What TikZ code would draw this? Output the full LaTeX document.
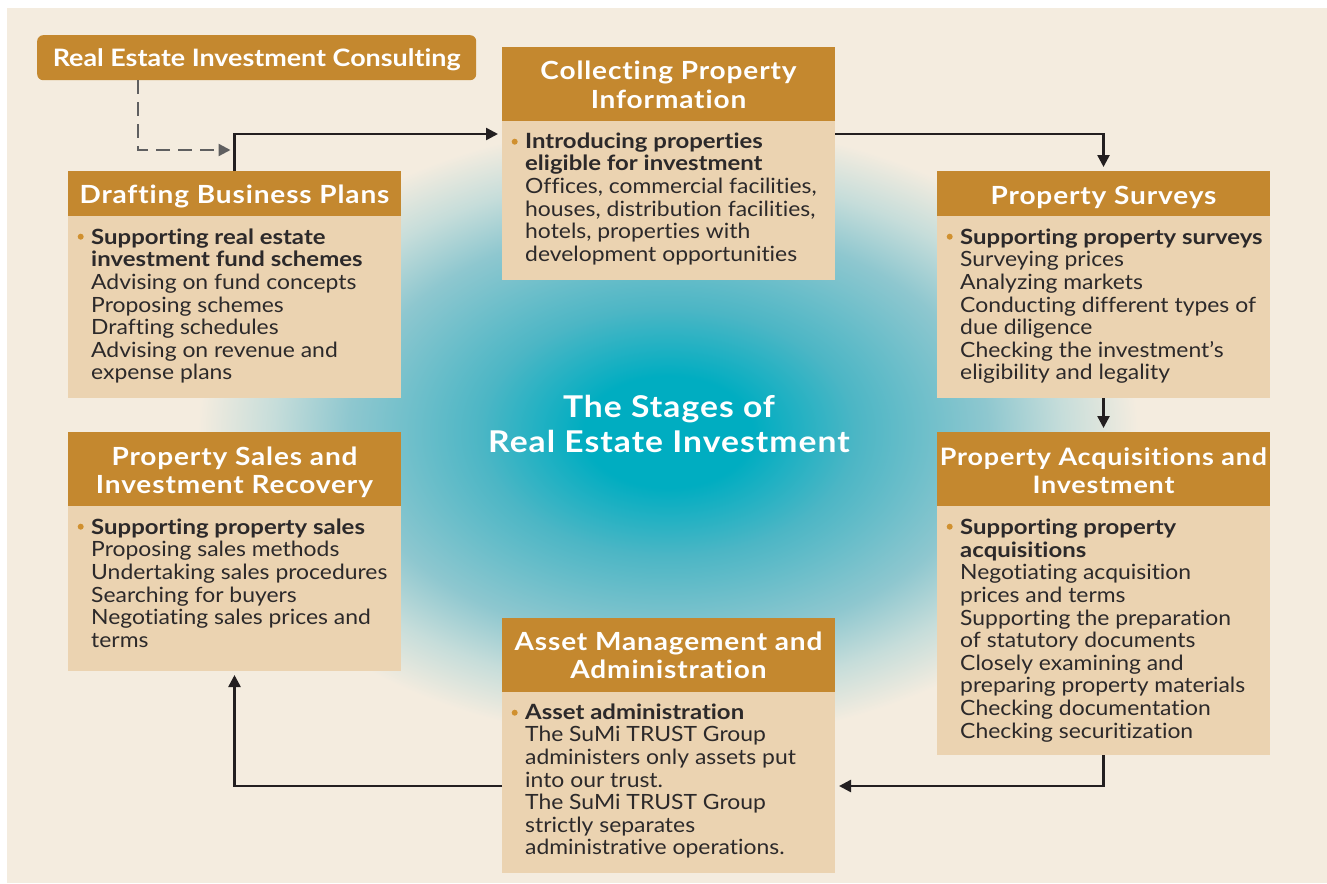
\documentclass[tikz,border=0pt]{standalone}
\usepackage{fontspec}
\setmainfont{Lato}[Ligatures=NoCommon]
\newfontfamily\bodyF{Lato}[FakeStretch=1.09, Ligatures=NoCommon]
\newfontfamily\boldF{Lato}[FakeStretch=1.14, Ligatures=NoCommon]
\newfontfamily\headF{Lato}[FakeStretch=1.12, LetterSpace=3.5, Ligatures=NoCommon]
\newfontfamily\consF{Lato}[FakeStretch=1.12, Ligatures=NoCommon]
\usetikzlibrary{arrows.meta,calc}
\definecolor{cream}{HTML}{F4ECDF}
\definecolor{hdrc}{HTML}{C4882F}
\definecolor{bodyc}{HTML}{EBD3B1}
\definecolor{textc}{HTML}{2C292A}
\definecolor{linec}{HTML}{231F20}
\definecolor{dashc}{HTML}{5F5F60}
\definecolor{bulletc}{HTML}{D0902F}
\definecolor{glowA}{HTML}{00ADC1}
\definecolor{glowB}{HTML}{4CB6C5}
\definecolor{glowC}{HTML}{8EC7CF}
\definecolor{glowD}{HTML}{C6DDDA}
\pgfdeclareradialshading{glow}{\pgfpoint{0bp}{0bp}}{color(0bp)=(glowA); color(4.5bp)=(glowA); color(10bp)=(glowB); color(17bp)=(glowC); color(21bp)=(glowD); color(25bp)=(cream); color(50bp)=(cream)}
\newcommand{\bl}[1]{{\boldF\bfseries #1}}
\tikzset{
  hdr/.style={rectangle, fill=hdrc, draw=none, inner sep=0pt, outer sep=0pt, minimum width=333pt, anchor=north west},
  bdy/.style={rectangle, fill=bodyc, draw=none, inner sep=0pt, outer sep=0pt, minimum width=333pt, anchor=north west},
  htxt/.style={inner sep=0pt, anchor=north, align=center, text=white, font=\headF\bfseries\fontsize{25}{28.7}\selectfont},
  btxt/.style={inner sep=0pt, anchor=north west, align=left, text=textc, font=\bodyF\fontsize{21}{22.6}\selectfont},
  ctxt/.style={inner sep=0pt, anchor=north, align=center, text=white, font=\headF\bfseries\fontsize{30}{35}\selectfont},
  arr/.style={draw=linec, line width=2.5pt, -{Triangle[length=12pt,width=12pt]}, shorten >=4pt},
  dasharr/.style={draw=dashc, line width=2.3pt, dash pattern=on 14pt off 8pt, -{Triangle[length=12pt,width=12pt]}},
  bul/.style={fill=bulletc}
}
\begin{document}
\begin{tikzpicture}[x=1pt,y=-1pt]
\useasboundingbox (0,0) rectangle (1327,883);
\fill[white] (0,0) rectangle (1327,883);
\fill[cream] (7,8) rectangle (1327,883);
\shade[shading=glow] (668,432) ellipse [x radius=470pt, y radius=310pt];

% boxes
\node[rectangle, fill=hdrc, rounded corners=6pt, inner sep=0pt, minimum width=439pt, minimum height=45pt, anchor=north west] (consult) at (37,35) {};
\node[hdr, minimum height=45pt] (hDraft) at (68,171) {};
\node[bdy, minimum height=182pt] (bDraft) at (68,216) {};
\node[hdr, minimum height=74pt] (hSales) at (68,432) {};
\node[bdy, minimum height=165pt] (bSales) at (68,506) {};
\node[hdr, minimum height=74pt] (hCollect) at (502,47) {};
\node[bdy, minimum height=159pt] (bCollect) at (502,121) {};
\node[hdr, minimum height=74pt] (hAsset) at (502,618) {};
\node[bdy, minimum height=181pt] (bAsset) at (502,692) {};
\node[hdr, minimum height=45pt] (hSurvey) at (937,171) {};
\node[bdy, minimum height=182pt] (bSurvey) at (937,216) {};
\node[hdr, minimum height=74pt] (hAcq) at (937,432) {};
\node[bdy, minimum height=249pt] (bAcq) at (937,506) {};

% connectors
\draw[dasharr] ($(consult.south west)+(101,0)$) |- ($(hDraft.north)+(-4,-21)$);
\draw[arr] (hDraft.north) |- ($(bCollect.north west)+(0,13)$);
\draw[arr] ($(bCollect.north east)+(0,13)$) -| (hSurvey.north);
\draw[arr] (bSurvey.south) -- (hAcq.north);
\draw[arr] (bAcq.south) |- ($(bAsset.north east)+(0,94)$);
\draw[arr] ($(bAsset.north west)+(0,94)$) -| (bSales.south);

% title
\node[ctxt] (title) at (669,395) {\rule{0pt}{22pt}The Stages of\\Real Estate Investment};
\node[inner sep=0pt, anchor=north, text=white, font=\consF\bfseries\fontsize{24}{28}\selectfont] (consultT) at ($(consult.north)+(0,11.7)$) {\rule{0pt}{20pt}Real Estate Investment Consulting};

% header texts
\node[htxt] (hDraftT) at ($(hDraft.north)+(0,12.5)$) {\rule{0pt}{20pt}Drafting Business Plans};
\node[htxt] (hSalesT) at ($(hSales.north)+(0,12.8)$) {\rule{0pt}{20pt}Property Sales and\\Investment Recovery};
\node[htxt] (hCollectT) at ($(hCollect.north)+(0,12.3)$) {\rule{0pt}{20pt}Collecting Property\\Information};
\node[htxt] (hAssetT) at ($(hAsset.north)+(0,12)$) {\rule{0pt}{20pt}Asset Management and\\Administration};
\node[htxt] (hSurveyT) at ($(hSurvey.north)+(0,13)$) {\rule{0pt}{20pt}Property Surveys};
\node[htxt, font=\headF\bfseries\fontsize{24}{28.7}\selectfont] (hAcqT) at ($(hAcq.north)+(0,12.8)$) {\rule{0pt}{20pt}Property Acquisitions and\\Investment};

% bullets
\foreach \b in {bDraft,bSales,bCollect,bAsset,bSurvey,bAcq}
  \fill[bul] ($(\b.north west)+(12.7,20.7)$) circle (3pt);

% body texts
\node[btxt] (tDraft) at ($(bDraft.north west)+(23,11)$) {\rule{0pt}{17pt}\bl{Supporting real estate}\\\bl{investment fund schemes}\\Advising on fund concepts\\Proposing schemes\\Drafting schedules\\Advising on revenue and\\expense plans};
\node[btxt] (tSales) at ($(bSales.north west)+(23,11)$) {\rule{0pt}{17pt}\bl{Supporting property sales}\\Proposing sales methods\\Undertaking sales procedures\\Searching for buyers\\Negotiating sales prices and\\terms};
\node[btxt] (tCollect) at ($(bCollect.north west)+(23,10)$) {\rule{0pt}{17pt}\bl{Introducing properties}\\\bl{eligible for investment}\\Offices, commercial facilities,\\houses, distribution facilities,\\hotels, properties with\\development opportunities};
\node[btxt] (tAsset) at ($(bAsset.north west)+(23,10)$) {\rule{0pt}{17pt}\bl{Asset administration}\\The SuMi TRUST Group\\administers only assets put\\into our trust.\\The SuMi TRUST Group\\strictly separates\\administrative operations.};
\node[btxt] (tSurvey) at ($(bSurvey.north west)+(23,11)$) {\rule{0pt}{17pt}\bl{Supporting property surveys}\\Surveying prices\\Analyzing markets\\Conducting different types of\\due diligence\\Checking the investment’s\\eligibility and legality};
\node[btxt] (tAcq) at ($(bAcq.north west)+(23,11.5)$) {\rule{0pt}{17pt}\bl{Supporting property}\\\bl{acquisitions}\\Negotiating acquisition\\prices and terms\\Supporting the preparation\\of statutory documents\\Closely examining and\\preparing property materials\\Checking documentation\\Checking securitization};
\end{tikzpicture}
\end{document}
